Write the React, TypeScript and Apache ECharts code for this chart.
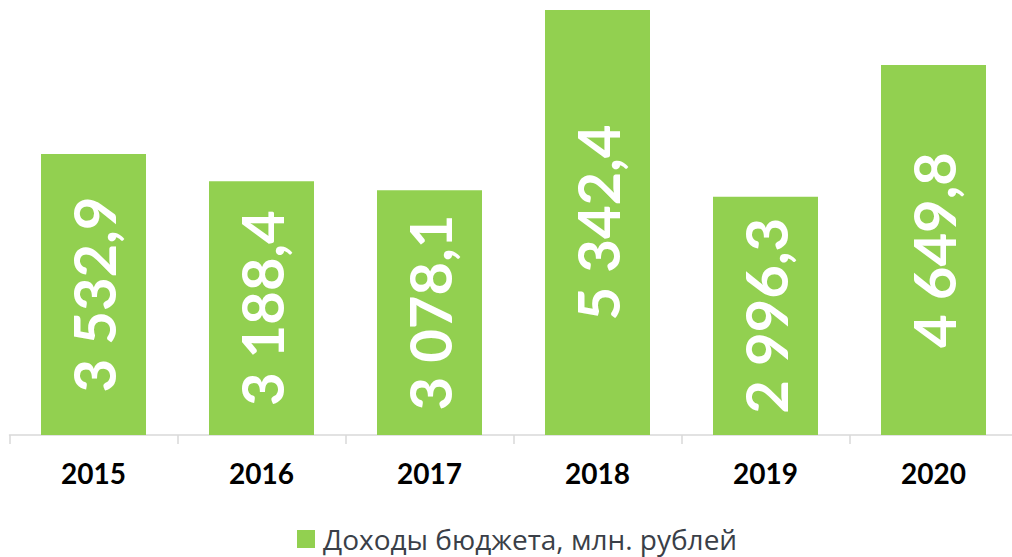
import React, { useEffect, useRef } from "react";
import * as echarts from "echarts";

const years = ["2015", "2016", "2017", "2018", "2019", "2020"];
const revenue = [3532.9, 3188.4, 3078.1, 5342.4, 2996.3, 4649.8];
const seriesName = "Доходы бюджета, млн. рублей";

const fmt = (v: number) => {
  const [i, d] = v.toFixed(1).split(".");
  const int = i.replace(/\B(?=(\d{3})+(?!\d))/g, " ");
  return `${int},${d}`;
};

export default function App() {
  const ref = useRef<HTMLDivElement>(null);
  useEffect(() => {
    document.body.style.margin = "0";
    const chart = echarts.init(ref.current!, undefined, { renderer: "svg" });
    chart.setOption({
      animation: false,
      grid: {
        left: 9.5,
        top: 10,
        width: 1008,
        bottom: 122,
        containLabel: false,
        outerBoundsMode: "none",
      },
      legend: {
        left: 292,
        top: 520,
        itemWidth: 18,
        itemHeight: 18,
        itemGap: 6,
        icon: "rect",
        textStyle: { fontFamily: "'Open Sans', sans-serif", fontSize: 28, color: "#3a3f48", padding: [0, 0, 0, 3] },
        data: [seriesName],
      },
      xAxis: {
        type: "category",
        data: years,
        axisLine: { show: true, lineStyle: { color: "#d9d9d9", width: 1.5 } },
        axisTick: { show: true, length: 9, lineStyle: { color: "#d9d9d9", width: 1.5 } },
        axisLabel: {
          margin: 24,
          fontFamily: "Lato, sans-serif",
          fontWeight: "bold",
          fontSize: 28,
          color: "#000",
        },
      },
      yAxis: {
        type: "value",
        min: 0,
        max: "dataMax",
        show: false,
        splitLine: { show: false },
      },
      series: [
        {
          name: seriesName,
          type: "bar",
          data: revenue,
          barWidth: 105,
          itemStyle: { color: "#92D050" },
          label: {
            show: true,
            position: "inside",
            rotate: 90,
            color: "#fff",
            fontFamily: "Lato, sans-serif",
            fontWeight: "bold",
            fontSize: 58,
            formatter: (p: any) => fmt(p.value),
          },
        },
      ],
    });
    return () => chart.dispose();
  }, []);
  return <div ref={ref} style={{ width: 1012, height: 557 }} />;
}
